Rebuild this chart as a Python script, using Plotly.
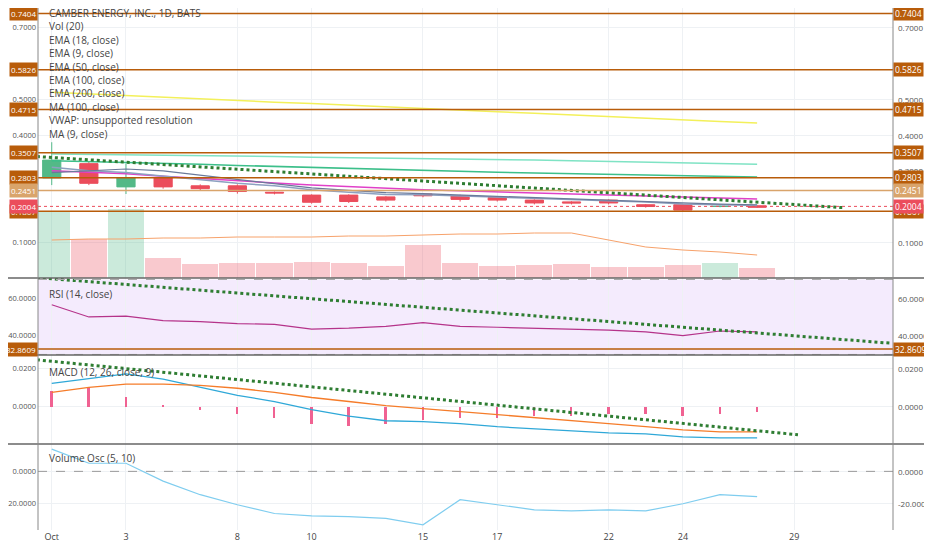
import plotly.graph_objects as go

dates = list(range(20))
tick_pos = [0, 2, 5, 7, 10, 12, 15, 17, 20]
tick_text = ["Oct", "3", "8", "10", "15", "17", "22", "24", "29"]

opens  = [0.280, 0.320, 0.255, 0.280, 0.258, 0.258, 0.240, 0.232, 0.232, 0.227, 0.235, 0.230, 0.225, 0.218, 0.213, 0.218, 0.205, 0.205, 0.200, 0.202]
closes = [0.330, 0.265, 0.280, 0.255, 0.250, 0.242, 0.238, 0.212, 0.214, 0.218, 0.230, 0.220, 0.218, 0.210, 0.210, 0.210, 0.200, 0.190, 0.2005, 0.198]
highs  = [0.380, 0.325, 0.320, 0.282, 0.262, 0.262, 0.242, 0.234, 0.234, 0.229, 0.238, 0.233, 0.228, 0.220, 0.215, 0.220, 0.207, 0.207, 0.203, 0.204]
lows   = [0.260, 0.260, 0.235, 0.250, 0.246, 0.236, 0.234, 0.208, 0.210, 0.214, 0.226, 0.214, 0.214, 0.206, 0.206, 0.206, 0.197, 0.188, 0.198, 0.196]
volume = [66, 39, 69, 20, 14, 15, 15, 16, 15, 12, 33, 15, 12, 13, 14, 11, 11, 13, 15, 10]
vol_ma = [38, 39, 39, 40, 40, 41, 41, 41, 42, 42, 43, 44, 44, 45, 45, 38, 31, 28, 26, 23]

ema200 = [0.520, 0.515, 0.511, 0.506, 0.502, 0.497, 0.492, 0.488, 0.483, 0.479, 0.474, 0.470, 0.465, 0.461, 0.456, 0.452, 0.447, 0.443, 0.438, 0.434]
ema100 = [0.347, 0.346, 0.345, 0.344, 0.342, 0.341, 0.340, 0.338, 0.337, 0.336, 0.334, 0.333, 0.331, 0.330, 0.328, 0.326, 0.324, 0.322, 0.320, 0.318]
ema50  = [0.328, 0.326, 0.324, 0.321, 0.318, 0.315, 0.312, 0.309, 0.306, 0.303, 0.301, 0.298, 0.296, 0.294, 0.292, 0.290, 0.288, 0.286, 0.284, 0.283]
ema18  = [0.300, 0.296, 0.292, 0.285, 0.278, 0.272, 0.266, 0.260, 0.255, 0.250, 0.247, 0.244, 0.241, 0.238, 0.235, 0.232, 0.229, 0.226, 0.223, 0.221]
ema9   = [0.310, 0.300, 0.295, 0.285, 0.275, 0.265, 0.258, 0.247, 0.240, 0.234, 0.233, 0.230, 0.227, 0.222, 0.219, 0.217, 0.213, 0.207, 0.205, 0.203]
ma9    = [0.295, 0.300, 0.305, 0.300, 0.288, 0.275, 0.263, 0.252, 0.245, 0.239, 0.236, 0.232, 0.228, 0.224, 0.220, 0.217, 0.214, 0.210, 0.207, 0.205]

rsi = [56.5, 50, 50.5, 48, 47.5, 46.5, 46, 43.5, 44, 45, 47, 45, 44.5, 44, 43.5, 43, 42, 40, 42.5, 42]
macd = [0.012, 0.0145, 0.017, 0.0142, 0.010, 0.0058, 0.0026, -0.0016, -0.005, -0.0074, -0.0079, -0.0089, -0.0105, -0.0116, -0.0126, -0.0137, -0.0142, -0.0158, -0.0163, -0.0163]
signal = [0.0074, 0.010, 0.0116, 0.0116, 0.0110, 0.0095, 0.0074, 0.0047, 0.0026, 0.0005, -0.0011, -0.0026, -0.0042, -0.0058, -0.0074, -0.0089, -0.0105, -0.0121, -0.0132, -0.0132]
hist = [0.008, 0.010, 0.005, 0.001, -0.002, -0.004, -0.006, -0.009, -0.010, -0.009, -0.007, -0.006, -0.006, -0.005, -0.005, -0.004, -0.004, -0.005, -0.004, -0.003]
vosc = [13.75, 5, 5, -6, -14.4, -20.6, -26, -27.5, -28, -29, -33, -17.5, -20.6, -23.75, -24.4, -23.75, -24.4, -20, -14.4, -15.6]

levels = [0.7404, 0.5826, 0.4715, 0.3507, 0.2803, 0.2451, 0.1867]
level_colors = ["#b85c0a", "#b85c0a", "#b85c0a", "#b85c0a", "#b85c0a", "#d9a46b", "#b85c0a"]
legend_lines = ["CAMBER ENERGY, INC., 1D, BATS", "Vol (20)", "EMA (18, close)", "EMA (9, close)", "EMA (50, close)",
                "EMA (100, close)", "EMA (200, close)", "MA (100, close)", "VWAP: unsupported resolution", "MA (9, close)"]

GREEN, RED = "#53b987", "#eb4d5c"
# the page has an 8px body margin; positions below are in page pixels
def fr(px):
    return (530.0 - px) / 522.0

fig = go.Figure()
ax = dict(showline=False, zeroline=False, gridcolor="#eef1f4", tickfont=dict(size=7.5, color="#555"),
          automargin=False, ticklabelstandoff=1)

fig.add_bar(x=dates, y=volume, yaxis="y5", width=0.97,
            marker=dict(color=[("rgba(83,185,135,0.3)" if c >= o else "rgba(235,77,92,0.3)") for o, c in zip(opens, closes)], line_width=0))
fig.add_scatter(x=dates, y=vol_ma, yaxis="y5", mode="lines", line=dict(color="#f7a26b", width=1))

fig.add_scatter(x=dates, y=ema200, mode="lines", line=dict(color="#f3f05a", width=1.5))
fig.add_scatter(x=dates, y=ema100, mode="lines", line=dict(color="#7fe3c4", width=1.5))
fig.add_scatter(x=dates, y=ema50, mode="lines", line=dict(color="#3cbf8a", width=1.5))
fig.add_scatter(x=dates, y=ema18, mode="lines", line=dict(color="#e040c8", width=1.5))
fig.add_scatter(x=dates, y=ema9, mode="lines", line=dict(color="#8da0c0", width=1.5))
fig.add_scatter(x=dates, y=ma9, mode="lines", line=dict(color="#6a7a9a", width=1.2))
fig.add_candlestick(x=dates, open=opens, high=highs, low=lows, close=closes, whiskerwidth=0,
                    increasing=dict(line=dict(color=GREEN, width=1), fillcolor=GREEN),
                    decreasing=dict(line=dict(color=RED, width=1), fillcolor=RED))
fig.add_scatter(x=[-0.4, 21.3], y=[0.340, 0.197], mode="lines", line=dict(color="#2e7d32", width=3, dash="dot"))

fig.add_scatter(x=dates, y=rsi, yaxis="y2", xaxis="x2", mode="lines", line=dict(color="#b5338a", width=1.2))
fig.add_scatter(x=[-0.4, 22.6], y=[71, 36], yaxis="y2", xaxis="x2", mode="lines", line=dict(color="#2e7d32", width=3, dash="dot"))
fig.add_bar(x=dates, y=hist, yaxis="y3", xaxis="x3", width=0.05, marker=dict(color="#f06292", line_width=0))
fig.add_scatter(x=dates, y=macd, yaxis="y3", xaxis="x3", mode="lines", line=dict(color="#2fa8d8", width=1.3))
fig.add_scatter(x=dates, y=signal, yaxis="y3", xaxis="x3", mode="lines", line=dict(color="#f57c2a", width=1.3))
fig.add_scatter(x=[-0.4, 20.1], y=[0.0243, -0.0147], yaxis="y3", xaxis="x3", mode="lines", line=dict(color="#2e7d32", width=3, dash="dot"))
fig.add_scatter(x=dates, y=vosc, yaxis="y4", xaxis="x4", mode="lines", line=dict(color="#7fcdef", width=1.2))
fig.add_scatter(x=[0], y=[100], yaxis="y6", mode="markers", marker=dict(opacity=0), hoverinfo="skip")

xr = [-0.37, 22.66]
xcommon = dict(range=xr, tickvals=tick_pos, ticktext=tick_text, gridcolor="#eef1f4", zeroline=False,
               showticklabels=False, automargin=False)
shapes, ann = [], []

def hline(y, yref, color, width=1.5, dash="solid"):
    shapes.append(dict(type="line", xref="paper", x0=0, x1=1, yref=yref, y0=y, y1=y, line=dict(color=color, width=width, dash=dash)))

def tag(y, yref, text, bg, fg="white"):
    for x, anc, sz in [(0, "right", 8), (1, "left", 8.5)]:
        ann.append(dict(x=x, xref="paper", y=y, yref=yref, text=text, showarrow=False, xanchor=anc,
                        bgcolor=bg, font=dict(size=sz, color=fg), borderpad=1))

def rlabel(y, yref, text):
    ann.append(dict(x=1, xref="paper", xanchor="left", xshift=3, y=y, yref=yref, text=text, showarrow=False,
                    font=dict(size=8, color="#555")))

for v in [0.7, 0.5, 0.4, 0.3, 0.1]:
    rlabel(v, "y", f"{v:.4f}")
for lv, c in zip(levels, level_colors):
    hline(lv, "y", c)
    tag(lv, "y", f"{lv:.4f}", c)
hline(0.2004, "y", RED, 1, "dot")
tag(0.2004, "y", "0.2004", RED)

shapes.append(dict(type="rect", xref="paper", x0=0, x1=1, yref="y2", y0=30, y1=70, fillcolor="rgba(180,120,240,0.15)", line_width=0, layer="below"))
hline(70, "y2", "#aaa", 1, "dash"); hline(30, "y2", "#aaa", 1, "dash")
for v in [60, 40]:
    rlabel(v, "y2", f"{v:.4f}")
hline(32.8609, "y2", "#b85c0a")
tag(32.8609, "y2", "32.8609", "#b85c0a")
for v in [0.02, 0.0]:
    rlabel(v, "y3", f"{v:.4f}")
hline(0, "y4", "#999", 1, "dash")
for v in [0, -20]:
    rlabel(v, "y4", f"{v:.4f}")
for p in [278, 355, 444]:
    shapes.append(dict(type="line", xref="paper", x0=-0.05, x1=1.05, yref="paper", y0=fr(p), y1=fr(p), line=dict(color="#666", width=1.5)))
for x in [0, 1]:
    shapes.append(dict(type="line", xref="paper", x0=x, x1=x, yref="paper", y0=0, y1=1, line=dict(color="#888", width=1)))

for i, t in enumerate(legend_lines):
    ann.append(dict(x=0.01, xref="paper", y=13 + i * 13.4, yref="y6", text=t, showarrow=False, xanchor="left",
                    yanchor="middle", font=dict(size=10, color="#444")))
for t, p in [("RSI (14, close)", 294), ("MACD (12, 26, close, 9)", 372), ("Volume Osc (5, 10)", 458)]:
    ann.append(dict(x=0.01, xref="paper", y=fr(p), yref="paper", text=t, showarrow=False, xanchor="left",
                    yanchor="middle", font=dict(size=10, color="#444")))

fig.update_layout(
    width=924, height=542, margin=dict(l=30, r=39, t=0, b=20), showlegend=False,
    paper_bgcolor="white", plot_bgcolor="white", font=dict(family="Open Sans"),
    bargap=0,
    xaxis=dict(**xcommon, domain=[0, 1], anchor="y", rangeslider=dict(visible=False)),
    xaxis2=dict(**xcommon, matches="x", anchor="y2"),
    xaxis3=dict(**xcommon, matches="x", anchor="y3"),
    xaxis4=dict(**{**xcommon, "showticklabels": True}, matches="x", anchor="y4", ticks="",
                tickfont=dict(size=9, color="#444")),
    yaxis=dict(**ax, domain=[fr(278), 1], range=[0, 0.7556], tickvals=[0.1, 0.4, 0.5, 0.7], tickformat=".4f"),
    yaxis5=dict(overlaying="y", range=[0, 270], visible=False),
    yaxis6=dict(overlaying="y", range=[278, 8], visible=False),
    yaxis2=dict(**ax, domain=[fr(355), fr(278)], range=[29.7, 70.8], tickvals=[40, 60], tickformat=".4f", showgrid=False),
    yaxis3=dict(**ax, domain=[fr(444), fr(355)], range=[-0.0195, 0.0268], tickvals=[0, 0.02], tickformat=".4f"),
    yaxis4=dict(**ax, domain=[0, fr(444)], range=[-36.2, 16.9], tickvals=[-20, 0], tickformat=".4f"),
    shapes=shapes, annotations=ann,
)
fig.write_html("out.html")
